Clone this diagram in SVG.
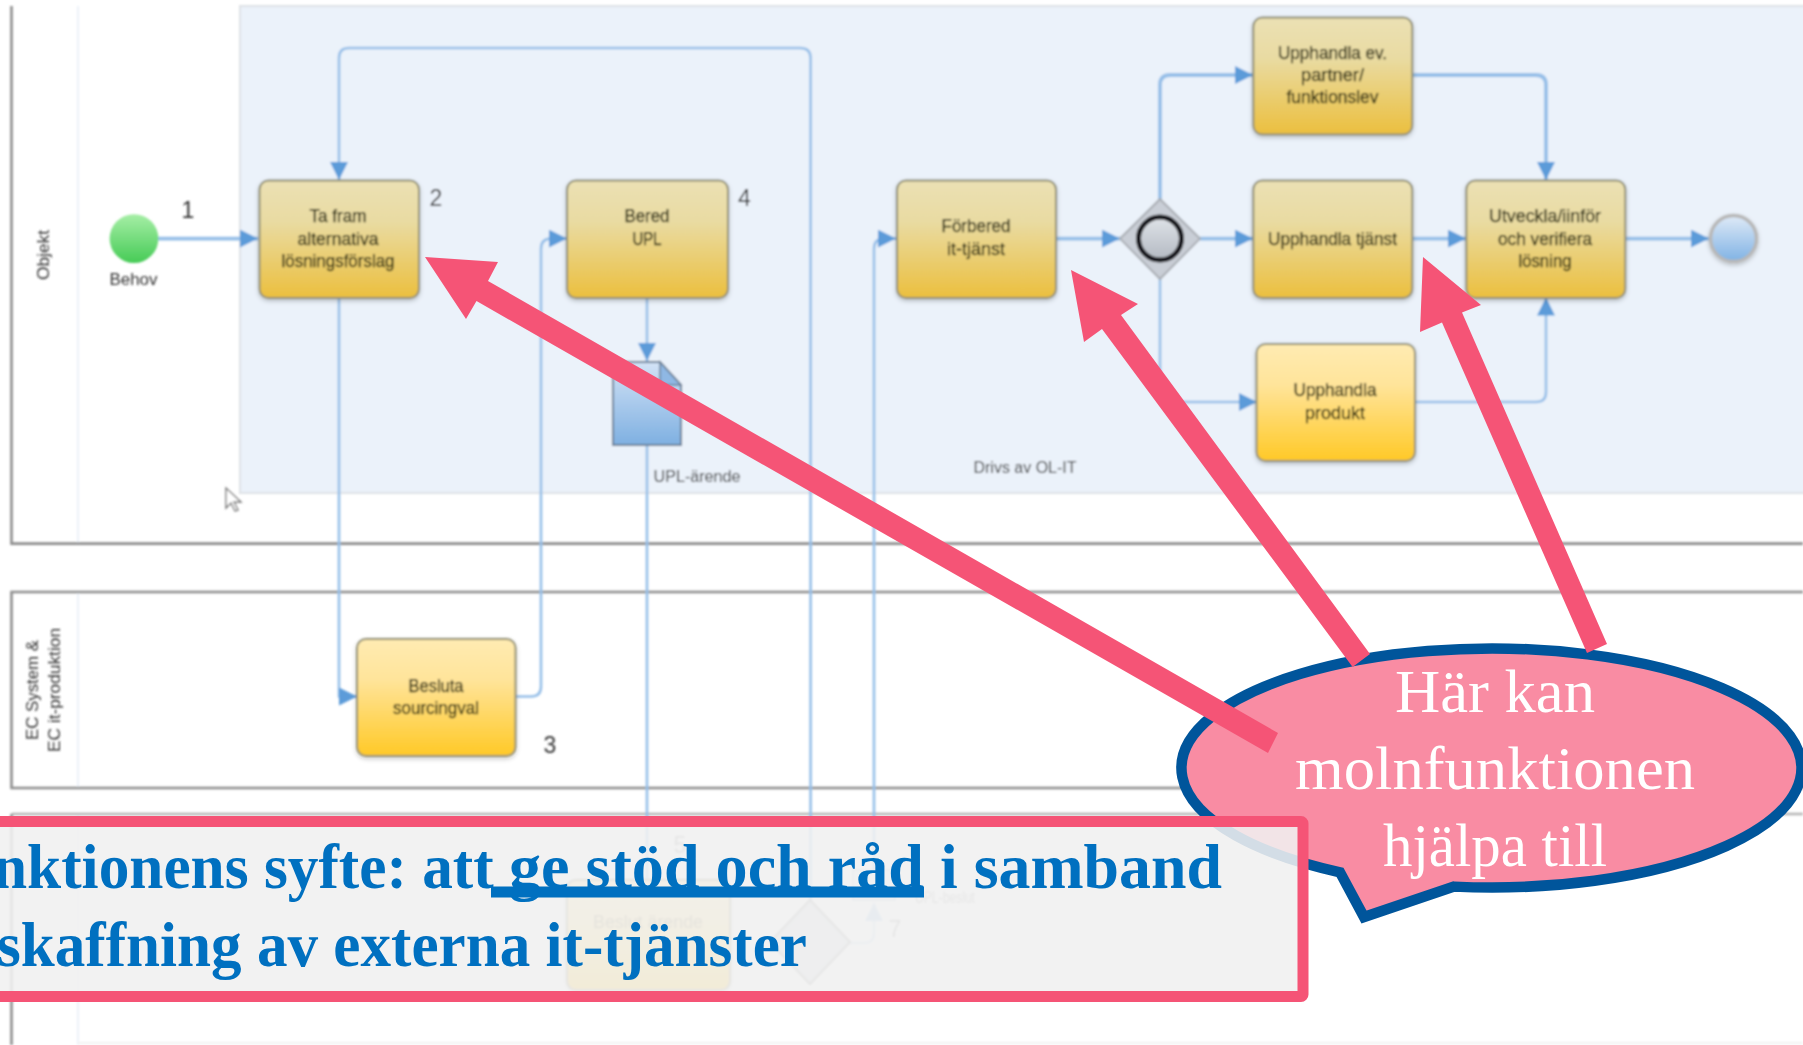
<svg xmlns="http://www.w3.org/2000/svg" width="1803" height="1045" viewBox="0 0 1803 1045">
<style>
.lane{fill:none;stroke:#8c8c8c;stroke-width:2.6}
.lane3{fill:none;stroke:#b4b4b4;stroke-width:2.6}
.hdr{fill:none;stroke:#edf2f9;stroke-width:2}
.c{fill:none;stroke:#96bfe8;stroke-width:2.6}
.th{stroke-width:3.8}
.h{marker-end:url(#ah)}
.t{fill:url(#gold);stroke:#8f8d72;stroke-width:2;filter:url(#sh)}
.tb{fill:url(#bright);stroke:#8f8d72;stroke-width:2;filter:url(#sh)}
.l{font-family:"Liberation Sans",Arial,sans-serif;font-size:17.5px;fill:#2c2b10;stroke:#2c2b10;stroke-width:.25;text-anchor:middle}
.n{font-family:"Liberation Sans",Arial,sans-serif;font-size:23px;fill:#333;text-anchor:middle}
.s{font-family:"Liberation Sans",Arial,sans-serif;font-size:16px;fill:#333;text-anchor:middle}
.pk{fill:#f55476}
.m{font-family:"Liberation Serif","Times New Roman",serif;font-size:64px;font-weight:700;fill:#0070c0}
.w{font-family:"Liberation Serif","Times New Roman",serif;font-size:62px;fill:#fff;text-anchor:middle}
</style>
<defs>
<linearGradient id="gold" x1="0" y1="0" x2="0" y2="1"><stop offset="0" stop-color="#ebe1b4"/><stop offset=".35" stop-color="#e9dba2"/><stop offset="1" stop-color="#ebbf3e"/></linearGradient>
<linearGradient id="bright" x1="0" y1="0" x2="0" y2="1"><stop offset="0" stop-color="#ffebb2"/><stop offset=".35" stop-color="#ffe49a"/><stop offset="1" stop-color="#ffc926"/></linearGradient>
<linearGradient id="grn" x1="0" y1="0" x2="0" y2="1"><stop offset="0" stop-color="#a6eea6"/><stop offset="1" stop-color="#46cb56"/></linearGradient>
<linearGradient id="blu" x1="0" y1="0" x2="0" y2="1"><stop offset="0" stop-color="#dfeaf7"/><stop offset="1" stop-color="#7fb2e4"/></linearGradient>
<linearGradient id="doc" x1="0" y1="0" x2="0" y2="1"><stop offset="0" stop-color="#d3e3f6"/><stop offset="1" stop-color="#7fb0e1"/></linearGradient>
<linearGradient id="gw" x1="0" y1="0" x2="0" y2="1"><stop offset="0" stop-color="#dfe3e8"/><stop offset="1" stop-color="#b3b9c2"/></linearGradient>
<marker id="ah" markerUnits="userSpaceOnUse" viewBox="0 0 18 18" markerWidth="18" markerHeight="18" refX="18" refY="9" orient="auto"><path d="M0,0 L18,9 L0,18 Z" fill="#5b9bd9"/></marker>
<filter id="sh" x="-10%" y="-10%" width="120%" height="125%"><feDropShadow dx="0" dy="2" stdDeviation="2" flood-color="#000" flood-opacity=".22"/></filter>
<filter id="soft" filterUnits="userSpaceOnUse" x="0" y="0" width="1803" height="1045"><feGaussianBlur stdDeviation="1"/></filter>
</defs>
<rect width="1803" height="1045" fill="#fff"/>
<g id="process" filter="url(#soft)">
<g id="panel"><rect x="240" y="6" width="1580" height="487" fill="#ebf2fa" stroke="#dfe2e6" stroke-width="2"/></g>
<g id="lane-objekt">
<path class="hdr" d="M78,6 V544"/>
<path class="lane" d="M11.5,6 V543.6 H1803"/>
<text class="s" transform="translate(49,255) rotate(-90)" textLength="50" lengthAdjust="spacingAndGlyphs">Objekt</text>
</g>
<g id="lane-ec">
<path class="hdr" d="M78,592 V788"/>
<path class="lane" d="M1803,592 H11.5 V788 H1803"/>
<text class="s" transform="translate(38,690) rotate(-90)" textLength="100" lengthAdjust="spacingAndGlyphs">EC System  &amp;</text>
<text class="s" transform="translate(60,690) rotate(-90)" textLength="124" lengthAdjust="spacingAndGlyphs">EC it-produktion</text>
</g>
<g id="lane-third">
<path class="hdr" d="M78,813 V1045"/>
<path class="lane3" d="M1803,814 H11.5"/>
<path class="lane" d="M11.5,814 V1045"/>
<path d="M78,1043 H1803" fill="none" stroke="#f2f2f2" stroke-width="2"/>
</g>
<g id="connectors">
<path class="c th h" d="M157,238.6 H258"/>
<path class="c h" d="M810.6,900 V58 Q810.6,48 800,48 H349 Q339,48 339,58 V180"/>
<path class="c h" d="M339,297.5 V696.5 H357"/>
<path class="c h" d="M515.5,696.5 H531 Q541,696.5 541,686.5 V249 Q541,238.6 551,238.6 H567"/>
<path class="c h" d="M647,297.5 V361"/>
<path class="c" d="M647,445 V880"/>
<path class="c h" d="M874,870 V249 Q874,238.6 884,238.6 H896"/>
<path class="c th h" d="M1056,238.6 H1120"/>
<path class="c th h" d="M1200,238.6 H1253"/>
<path class="c th h" d="M1160,200 V85 Q1160,75 1170,75 H1253"/>
<path class="c h" d="M1160,278 V392 Q1160,402 1170,402 H1257"/>
<path class="c th h" d="M1412,75 H1536 Q1546,75 1546,85 V180"/>
<path class="c h" d="M1415,402 H1536 Q1546,402 1546,392 V297.5"/>
<path class="c th h" d="M1412,238.6 H1466"/>
<path class="c th h" d="M1625,238.6 H1709"/>
<path class="c h" opacity=".5" d="M850,943 H864 Q874,943 874,933 V903"/>
</g>
<g id="start"><circle cx="134" cy="238.6" r="24.4" fill="url(#grn)"/><text class="s" x="133.5" y="285" textLength="48" lengthAdjust="spacingAndGlyphs">Behov</text></g>
<text class="n" x="188" y="218">1</text>
<g id="task-ta-fram"><rect class="t" x="259.5" y="180.5" width="159.5" height="117.5" rx="9"/>
<text class="l" x="338" y="222" textLength="57" lengthAdjust="spacingAndGlyphs">Ta fram</text><text class="l" x="338" y="245" textLength="81" lengthAdjust="spacingAndGlyphs">alternativa</text><text class="l" x="338" y="267" textLength="113" lengthAdjust="spacingAndGlyphs">lösningsförslag</text></g>
<text class="n" x="436" y="206">2</text>
<g id="task-bered"><rect class="t" x="567" y="180.5" width="161" height="117.5" rx="9"/>
<text class="l" x="647" y="222" textLength="45" lengthAdjust="spacingAndGlyphs">Bered</text><text class="l" x="647" y="245" textLength="29" lengthAdjust="spacingAndGlyphs">UPL</text></g>
<text class="n" x="744.5" y="206">4</text>
<g id="doc-upl"><path d="M613,362 H660 L681,385 V445 H613 Z" fill="url(#doc)" stroke="#6a7f96" stroke-width="2"/><path d="M660,362 V385 H681 Z" fill="#8fb8e4" stroke="#6a7f96" stroke-width="1.5"/>
<text class="s" x="697" y="481.5" textLength="87" lengthAdjust="spacingAndGlyphs">UPL-ärende</text></g>
<g id="task-besluta"><rect class="tb" x="357" y="639" width="158.5" height="117" rx="9"/>
<text class="l" x="436" y="691.5" textLength="55" lengthAdjust="spacingAndGlyphs">Besluta</text><text class="l" x="436" y="713.5" textLength="86" lengthAdjust="spacingAndGlyphs">sourcingval</text></g>
<text class="n" x="550" y="753">3</text>
<g id="task-forbered"><rect class="t" x="897" y="180.5" width="159" height="117.5" rx="9"/>
<text class="l" x="976" y="232" textLength="69" lengthAdjust="spacingAndGlyphs">Förbered</text><text class="l" x="976" y="255" textLength="58" lengthAdjust="spacingAndGlyphs">it-tjänst</text></g>
<g id="gateway"><path d="M1160,199 L1200,238.6 L1160,279 L1120,238.6 Z" fill="#c9ced6" stroke="#a9adb3" stroke-width="2"/><circle cx="1160" cy="238.6" r="21.5" fill="url(#gw)" stroke="#14141a" stroke-width="5"/></g>
<g id="task-partner"><rect class="t" x="1253.3" y="17.5" width="159" height="117" rx="9"/>
<text class="l" x="1332.5" y="59" textLength="109" lengthAdjust="spacingAndGlyphs">Upphandla ev.</text><text class="l" x="1332.5" y="81" textLength="63" lengthAdjust="spacingAndGlyphs">partner/</text><text class="l" x="1332.5" y="103" textLength="92" lengthAdjust="spacingAndGlyphs">funktionslev</text></g>
<g id="task-tjanst"><rect class="t" x="1253.3" y="180.5" width="159" height="117.5" rx="9"/>
<text class="l" x="1332.5" y="245" textLength="129" lengthAdjust="spacingAndGlyphs">Upphandla tjänst</text></g>
<g id="task-produkt"><rect class="tb" x="1256.5" y="344" width="158.5" height="117" rx="9"/>
<text class="l" x="1335" y="396" textLength="83" lengthAdjust="spacingAndGlyphs">Upphandla</text><text class="l" x="1335" y="419" textLength="60" lengthAdjust="spacingAndGlyphs">produkt</text></g>
<g id="task-utveckla"><rect class="t" x="1466.3" y="180.5" width="159" height="117.5" rx="9"/>
<text class="l" x="1545" y="222" textLength="112" lengthAdjust="spacingAndGlyphs">Utveckla/iinför</text><text class="l" x="1545" y="245" textLength="94" lengthAdjust="spacingAndGlyphs">och verifiera</text><text class="l" x="1545" y="267" textLength="53" lengthAdjust="spacingAndGlyphs">lösning</text></g>
<g id="end"><circle cx="1733.5" cy="238.6" r="23" fill="url(#blu)" stroke="#b8b8b8" stroke-width="3.5" filter="url(#sh)"/></g>
<text class="s" x="1025" y="473" textLength="103" lengthAdjust="spacingAndGlyphs">Drivs av OL-IT</text>
<g id="task-beslut-faint"><rect class="tb" x="567" y="880" width="163" height="110" rx="9"/><text class="l" x="648" y="928" textLength="110" lengthAdjust="spacingAndGlyphs" opacity=".5">Beslut ärende</text></g>
<g id="gateway-faint"><path d="M810,900 L850,942 L810,984 L770,942 Z" fill="#d8dce2" stroke="#999" stroke-width="2"/></g>
<g id="doc-faint" opacity=".5"><rect x="853" y="870" width="42" height="30" fill="#dde8f4" stroke="#8ba7c4" stroke-width="2"/><text class="s" x="945" y="903" textLength="60" lengthAdjust="spacingAndGlyphs">UPL-beslut</text></g>
<text class="n" x="680" y="853" opacity=".5">5</text>
<text class="n" x="895" y="937" opacity=".5">7</text>
<path id="cursor" d="M226,488 V508 L231,503 L235,511 L238,510 L234,502 L241,502 Z" fill="#fff" stroke="#777" stroke-width="1.4"/>
</g>
<g id="callout">
<path d="M1340,872.26 A310,119.5 0 1 1 1454,886.62 L1364,917 Z" fill="#f98ca3" stroke="#00559b" stroke-width="10.5" stroke-linejoin="miter" stroke-miterlimit="8"/>
<text class="w" x="1495" y="712" textLength="200" lengthAdjust="spacingAndGlyphs">Här kan</text>
<text class="w" x="1495" y="789" textLength="400" lengthAdjust="spacingAndGlyphs">molnfunktionen</text>
<text class="w" x="1495" y="866" textLength="224" lengthAdjust="spacingAndGlyphs">hjälpa till</text>
</g>
<g id="arrows">
<polygon class="pk" points="425,257 498,262 488,281 1278,733 1268,753 476.5,301 466,319"/>
<polygon class="pk" points="1071,270 1138,304 1121,315 1370,654 1352.6,667 1102,329 1084,342"/>
<polygon class="pk" points="1423,257 1481,305 1462,312.5 1607,644 1587,653 1442,322.5 1420,332"/>
</g>
<g id="purpose">
<rect x="-20" y="821.5" width="1323" height="175" rx="2" fill="#f0f0f0" fill-opacity=".88" stroke="#f55476" stroke-width="11"/>
<rect x="491" y="886.5" width="433" height="11" fill="#0070c0"/>
<text class="m" y="888"><tspan x="-7" textLength="516" lengthAdjust="spacingAndGlyphs">nktionens syfte: att </tspan><tspan x="509" textLength="431" lengthAdjust="spacingAndGlyphs">ge stöd och råd </tspan><tspan x="940" textLength="282" lengthAdjust="spacingAndGlyphs">i samband</tspan></text>
<text class="m" x="-3" y="966" textLength="810" lengthAdjust="spacingAndGlyphs">skaffning av externa it-tjänster</text>
</g>
</svg>
